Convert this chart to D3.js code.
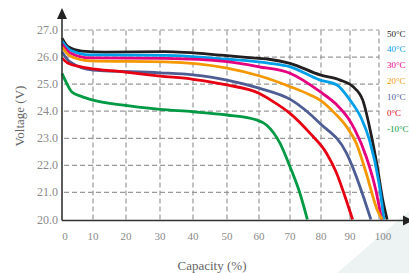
<!DOCTYPE html>
<html>
<head>
<meta charset="utf-8">
<script src="https://cdn.jsdelivr.net/npm/d3@7"></script>
<style>
  html, body { margin: 0; padding: 0; background: #fff; }
  svg { display: block; }
</style>
</head>
<body>
<div id="chart"></div>
<script>
'use strict';

// tick labels
let capTicks = [0, 10, 20, 30, 40, 50, 60, 70, 80, 90, 100];
let voltTicks = [20, 21, 22, 23, 24, 25, 26, 27];

// discharge curves, [capacity %, voltage V]
let curve50 = [[0, 26.70], [2, 26.38], [6.4, 26.22], [13.6, 26.18], [31.5, 26.20], [50, 26.05], [60, 25.95], [63.2, 25.92], [70, 25.77], [79.7, 25.34], [86.6, 25.15], [91, 24.91], [94.4, 24.41], [97.2, 23.18], [99.4, 21.95], [101.3, 20.72], [102.8, 20.0]];
let curve40 = [[0, 26.59], [2.6, 26.26], [9, 26.08], [31.5, 26.06], [50, 25.92], [63.5, 25.77], [70, 25.64], [79.7, 25.15], [85.5, 24.97], [90, 24.41], [93.9, 23.74], [96.7, 22.94], [100, 21.34], [101.7, 20.0]];
let curve30 = [[0, 26.48], [2.6, 26.15], [9, 25.97], [31.5, 25.95], [50, 25.83], [60, 25.64], [70, 25.40], [79.7, 24.72], [85.5, 24.23], [89.4, 23.74], [91.7, 23.31], [95.6, 22.32], [98.9, 21.09], [100.9, 20.0]];
let curve20 = [[0, 26.37], [2.6, 26.04], [9, 25.86], [31.5, 25.82], [50, 25.59], [60, 25.31], [70, 24.91], [76.5, 24.60], [79.7, 24.41], [84.8, 23.92], [88.8, 23.43], [92.2, 22.81], [95.6, 21.71], [99.4, 20.35], [101.1, 20.0]];
let curve10 = [[0, 26.19], [2.6, 25.82], [10, 25.52], [30, 25.42], [40, 25.34], [50, 25.15], [60, 24.85], [70.5, 24.41], [79.7, 23.55], [88.8, 22.45], [92.2, 21.58], [95, 20.72], [97.2, 20.0]];
let curve0 = [[0, 25.97], [2, 25.77], [8.5, 25.59], [18.6, 25.46], [30, 25.30], [40, 25.18], [50, 24.97], [60, 24.66], [63.8, 24.41], [70, 23.92], [76.5, 23.18], [81.9, 22.45], [85.4, 21.71], [88.3, 20.84], [90.9, 20.0]];
let curveM10 = [[0, 25.40], [1.3, 25.08], [3.1, 24.72], [6.4, 24.54], [10, 24.41], [18.6, 24.23], [30, 24.07], [40, 23.98], [50, 23.86], [59.2, 23.68], [62.4, 23.49], [66.8, 22.81], [70, 21.95], [73.2, 20.97], [75.6, 20.0]];

let tempLabels = ['50°C', '40°C', '30°C', '20°C', '10°C', '0°C', '-10°C'];
let tempColors = ['#231f20', '#00a0e9', '#e4007f', '#f39800', '#4e5d93', '#e60012', '#009944'];

let series = [curve50, curve40, curve30, curve20, curve10, curve0, curveM10];

let w = 409;
let h = 273;

let svg = d3.select('#chart').append('svg')
	.attr('width', w)
	.attr('height', h)
	.style('font-family', '"Liberation Serif", "DejaVu Serif", serif');

// faint corner shape
svg.append('polygon')
	.attr('points', '337,273 409,211 409,273')
	.attr('fill', '#edf3f3');

// the printed grid is not evenly spaced, so the x scale is piecewise
let x = d3.scaleLinear()
	.domain(capTicks)
	.range([62, 93, 126, 160, 193, 227, 259, 290, 321, 350, 379]);

let y = d3.scaleLinear()
	.domain([20, 27])
	.range([219.5, 30]);

// grid
let grid = svg.append('g')
	.attr('stroke', '#999')
	.attr('stroke-width', 1.2)
	.attr('stroke-dasharray', '5,3')
	.attr('fill', 'none');

grid.selectAll('.hg')
	.data(voltTicks.slice(1))
	.enter()
	.append('line')
	.attr('class', 'hg')
	.attr('x1', x(0) + 2)
	.attr('x2', x(100))
	.attr('y1', d => y(d))
	.attr('y2', d => y(d));

grid.selectAll('.vg')
	.data(capTicks.slice(1))
	.enter()
	.append('line')
	.attr('class', 'vg')
	.attr('x1', d => x(d))
	.attr('x2', d => x(d))
	.attr('y1', y(20))
	.attr('y2', y(27));

// curves
let line = d3.line()
	.x(d => x(d[0]))
	.y(d => y(d[1]))
	.curve(d3.curveMonotoneX);

svg.selectAll('.curve')
	.data(series)
	.enter()
	.append('path')
	.attr('class', 'curve')
	.attr('d', line)
	.attr('fill', 'none')
	.attr('stroke', (d, i) => tempColors[i])
	.attr('stroke-width', 2.8)
	.attr('stroke-linejoin', 'round');

// axes with arrows
let axisColor = '#333';
svg.append('line')
	.attr('x1', x(0)).attr('x2', x(0))
	.attr('y1', y(20) + 1).attr('y2', 17)
	.attr('stroke', axisColor)
	.attr('stroke-width', 1.6);
svg.append('path')
	.attr('d', `M${x(0)},8 L${x(0) - 5},19 L${x(0) + 5},19 Z`)
	.attr('fill', '#222');

svg.append('line')
	.attr('x1', x(0)).attr('x2', 404)
	.attr('y1', y(20) + 1).attr('y2', y(20) + 1)
	.attr('stroke', axisColor)
	.attr('stroke-width', 1.6);
svg.append('path')
	.attr('d', `M413,${y(20) + 1} L403,${y(20) - 4} L403,${y(20) + 6} Z`)
	.attr('fill', '#222');

// tick labels
svg.selectAll('.ylab')
	.data(voltTicks)
	.enter()
	.append('text')
	.attr('class', 'ylab')
	.text(d => d.toFixed(1))
	.attr('x', 58)
	.attr('y', d => y(d) + 4)
	.attr('text-anchor', 'end')
	.attr('font-size', '12px')
	.attr('fill', '#8a8a8a');

svg.selectAll('.xlab')
	.data(capTicks)
	.enter()
	.append('text')
	.attr('class', 'xlab')
	.text(d => d)
	.attr('x', d => d === 0 ? x(d) + 3 : (d === 100 ? x(d) + 4 : x(d)))
	.attr('y', 240)
	.attr('text-anchor', 'middle')
	.attr('font-size', '11px')
	.attr('fill', '#8a8a8a');

// axis titles
svg.append('text')
	.text('Voltage (V)')
	.attr('transform', 'translate(24,116) rotate(-90)')
	.attr('text-anchor', 'middle')
	.attr('font-size', '13px')
	.attr('fill', '#666');

svg.append('text')
	.text('Capacity (%)')
	.attr('x', 212)
	.attr('y', 270)
	.attr('text-anchor', 'middle')
	.attr('font-size', '13px')
	.attr('fill', '#666');

// temperature labels at the right edge
svg.selectAll('.temp')
	.data(tempLabels)
	.enter()
	.append('text')
	.attr('class', 'temp')
	.text(d => d)
	.attr('x', 387)
	.attr('y', (d, i) => 36.5 + i * 15.9)
	.attr('font-size', '9px')
	.attr('fill', (d, i) => tempColors[i]);
</script>
</body>
</html>
